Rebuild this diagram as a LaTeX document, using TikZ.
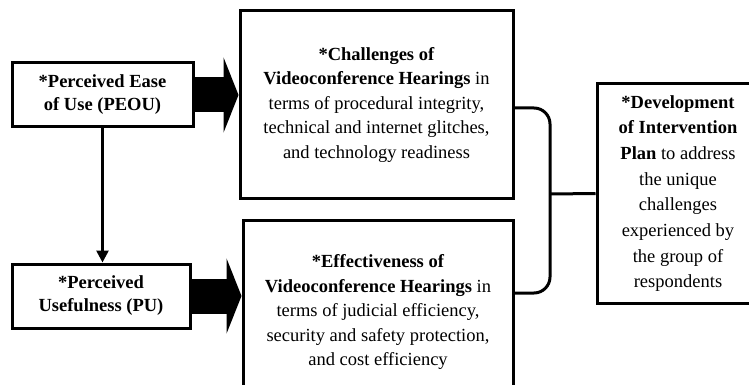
\documentclass[tikz,border=0pt]{standalone}
\usepackage{fontspec}
\setmainfont{Liberation Serif}
\usetikzlibrary{arrows.meta}
\tikzset{box/.style={draw, line width=3pt, align=center, inner sep=0pt, font=\fontsize{18.5}{24.5}\selectfont},
	fat/.style={line width=35pt, -{Triangle[length=15pt, width=75pt]}}}
\begin{document}
\begin{tikzpicture}[x=1pt,y=-1pt]
	\useasboundingbox (0,0) rectangle (749,385);
	\node[box, minimum width=181pt, minimum height=64pt, font=\fontsize{18.5}{23}\selectfont] (peou) at (102.5,95) {\textbf{*Perceived Ease}\\\textbf{of Use (PEOU)}};
	\node[box, minimum width=178pt, minimum height=64pt, font=\fontsize{18.5}{23}\selectfont] (pu) at (101,296) {\textbf{*Perceived}\\\textbf{Usefulness (PU)}};
	\node[box, minimum width=273pt, minimum height=187pt] (chal) at (376.5,104.5) {\textbf{*Challenges of}\\\textbf{Videoconference Hearings} in\\terms of procedural integrity,\\technical and internet glitches,\\and technology readiness};
	\node[box, minimum width=270pt, minimum height=184pt] (eff) at (378,312) {\textbf{*Effectiveness of}\\\textbf{Videoconference Hearings} in\\terms of judicial efficiency,\\security and safety protection,\\and cost efficiency};
	\node[box, minimum width=162pt, minimum height=219pt, font=\fontsize{18.5}{25.7}\selectfont] (dev) at (678,193.5) {\textbf{*Development}\\\textbf{of Intervention}\\\textbf{Plan} to address\\the unique\\challenges\\experienced by\\the group of\\respondents};
	\coordinate (j) at (550,194);
	\draw[fat] (peou.east) -- (chal.west |- peou.east);
	\draw[fat] (pu.east) -- (eff.west |- pu.east);
	\draw[line width=2.6pt, -{Triangle[length=12pt, width=12pt]}] (peou.south) -- (peou.south |- pu.north);
	\draw[line width=3pt, rounded corners=16pt] ([yshift=-3.5pt]chal.east) -| (j) |- ([yshift=19pt]eff.east);
	\draw[line width=3pt] (j) -- (dev.west);
\end{tikzpicture}
\end{document}
